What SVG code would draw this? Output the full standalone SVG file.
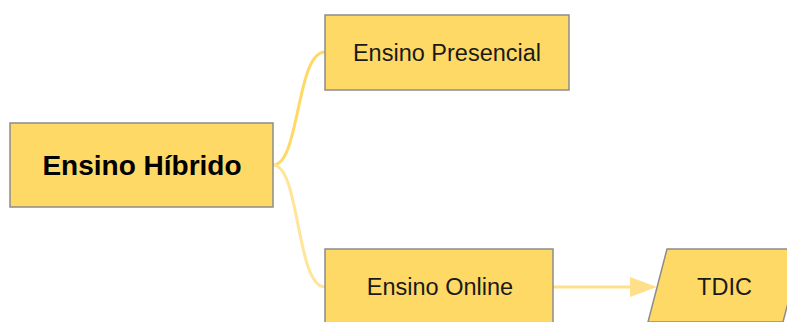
<svg xmlns="http://www.w3.org/2000/svg" width="787" height="322" viewBox="0 0 787 322">
<style>
.box{fill:#ffd966;stroke:#8c8c8c;stroke-width:1.5}
.t{font-family:"Liberation Sans",Arial,sans-serif;font-size:23.5px;fill:#1a1a1a;text-anchor:middle;dominant-baseline:central}
.b{font-weight:bold;font-size:28px;fill:#000}
.c{fill:none;stroke-width:3}
</style>
<rect width="787" height="322" fill="#fff"/>
<g id="connectors">
<path class="c" stroke="#ffd966" d="M273,165 C300,165 296,52 325,52"/>
<path class="c" stroke="#ffe599" d="M273,165 C300,165 296,287 325,287"/>
<line x1="553" y1="287" x2="633" y2="287" stroke="#ffe08a" stroke-width="3"/>
<path d="M630,277 L657,287 L630,297 Z" fill="#ffe08a"/>
</g>
<g id="hibrido">
<rect class="box" x="10" y="123" width="263" height="84"/>
<text class="t b" x="142" y="165">Ensino Híbrido</text>
</g>
<g id="presencial">
<rect class="box" x="325" y="15" width="244" height="75"/>
<text class="t" x="447" y="52.5">Ensino Presencial</text>
</g>
<g id="online">
<rect class="box" x="325" y="249" width="228" height="76"/>
<text class="t" x="440" y="287">Ensino Online</text>
</g>
<g id="tdic">
<polygon class="box" points="667,249 802,249 783,322 648,322"/>
<text class="t" x="724.5" y="287">TDIC</text>
</g>
</svg>
